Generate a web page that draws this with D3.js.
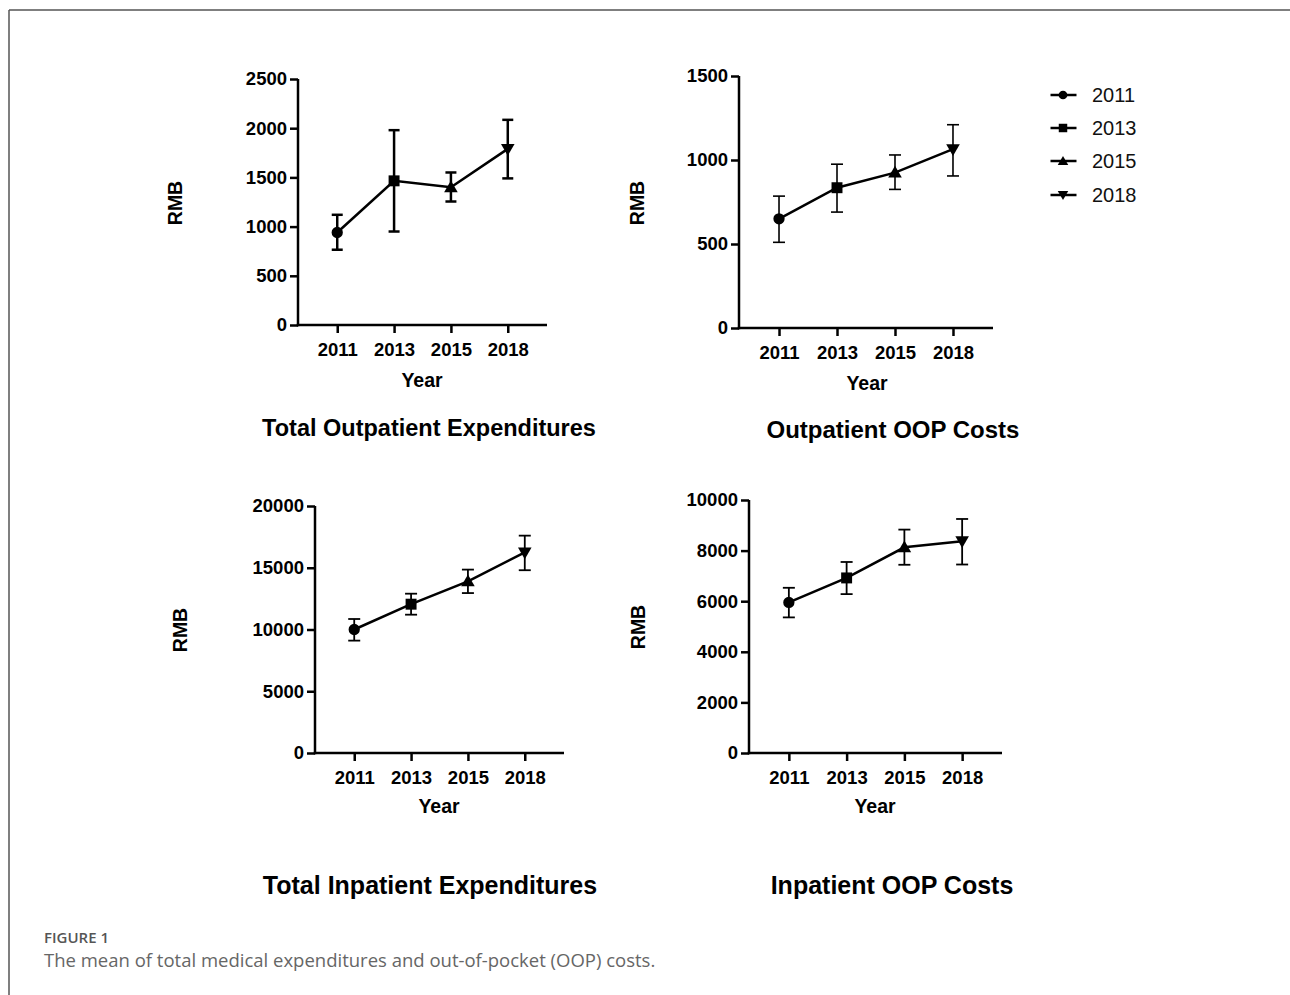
<!DOCTYPE html>
<html>
<head>
<meta charset="utf-8">
<script src="https://cdnjs.cloudflare.com/ajax/libs/d3/7.8.5/d3.min.js"></script>
<style>
  html, body { margin: 0; padding: 0; background: #fff; }
  svg { display: block; }
</style>
</head>
<body>
<svg id="chart" width="1290" height="995"></svg>
<script>
// ---------- data ----------
const years = ["2011", "2013", "2015", "2018"];

const outTotalMean = [940, 1465, 1400, 1790];
const outTotalLow  = [765, 950, 1255, 1490];
const outTotalHigh = [1120, 1980, 1550, 2085];

const outOopMean = [650, 835, 925, 1065];
const outOopLow  = [510, 690, 825, 905];
const outOopHigh = [785, 975, 1030, 1210];

const inTotalMean = [10000, 12050, 13900, 16250];
const inTotalLow  = [9100, 11200, 12950, 14800];
const inTotalHigh = [10850, 12900, 14850, 17600];

const inOopMean = [5950, 6920, 8130, 8370];
const inOopLow  = [5360, 6280, 7440, 7450];
const inOopHigh = [6530, 7550, 8830, 9250];

const outTotalTicks = [0, 500, 1000, 1500, 2000, 2500];
const outOopTicks   = [0, 500, 1000, 1500];
const inTotalTicks  = [0, 5000, 10000, 15000, 20000];
const inOopTicks    = [0, 2000, 4000, 6000, 8000, 10000];

const panelTitles = ["Total Outpatient Expenditures", "Outpatient OOP Costs",
                     "Total Inpatient Expenditures", "Inpatient OOP Costs"];
const yLabel = "RMB";
const xLabel = "Year";
const captionHead = "FIGURE 1";
const captionText = "The mean of total medical expenditures and out-of-pocket (OOP) costs.";

// ---------- layout ----------
const panels = [
  { mean: outTotalMean, low: outTotalLow, high: outTotalHigh, ticks: outTotalTicks, max: 2500,
    x0: 298, x1: 547, yTop: 79, yBot: 325, ebW: 2.5, cap: 11,
    rmb: [175, 203], yr: [422, 387], title: [429, 436], tSize: 23.5 },
  { mean: outOopMean, low: outOopLow, high: outOopHigh, ticks: outOopTicks, max: 1500,
    x0: 739, x1: 993, yTop: 76, yBot: 328, ebW: 1.6, cap: 12,
    rmb: [637, 203], yr: [867, 390], title: [893, 438], tSize: 24 },
  { mean: inTotalMean, low: inTotalLow, high: inTotalHigh, ticks: inTotalTicks, max: 20000,
    x0: 315, x1: 564, yTop: 506, yBot: 753, ebW: 1.8, cap: 12,
    rmb: [180, 630], yr: [439, 813], title: [430, 894], tSize: 25 },
  { mean: inOopMean, low: inOopLow, high: inOopHigh, ticks: inOopTicks, max: 10000,
    x0: 749, x1: 1002, yTop: 500, yBot: 753, ebW: 1.8, cap: 12,
    rmb: [638, 627], yr: [875, 813], title: [892, 894], tSize: 25 }
];

const FONT = "'Liberation Sans', Arial, Helvetica, sans-serif";
const svg = d3.select("#chart");

// frame
svg.append("line").attr("x1", 9).attr("y1", 10).attr("x2", 1290).attr("y2", 10)
  .attr("stroke", "#555").attr("stroke-width", 1.5);
svg.append("line").attr("x1", 9).attr("y1", 10).attr("x2", 9).attr("y2", 995)
  .attr("stroke", "#555").attr("stroke-width", 1.5);

const shapes = [
  d3.symbol().type(d3.symbolCircle),
  d3.symbol().type(d3.symbolSquare),
  d3.symbol().type(d3.symbolTriangle),
  d3.symbol().type(d3.symbolTriangle)
];
const rot = [0, 0, 0, 180];
const sizes = [100, 120, 80, 80];

panels.forEach((p, pi) => {
  const g = svg.append("g");
  const x = d3.scaleLinear().domain([-0.69, 3.69]).range([p.x0, p.x1]);
  const y = d3.scaleLinear().domain([0, p.max]).range([p.yBot, p.yTop]);

  // y axis
  const ya = g.append("g").attr("transform", `translate(${p.x0},0)`)
    .call(d3.axisLeft(y).tickValues(p.ticks).tickSize(8).tickSizeOuter(0).tickPadding(3)
      .tickFormat(d3.format("d")));
  // x axis
  const xa = g.append("g").attr("transform", `translate(0,${p.yBot})`)
    .call(d3.axisBottom(x).tickValues(d3.range(years.length)).tickSize(8).tickSizeOuter(0)
      .tickPadding(10).tickFormat(i => years[i]));
  [ya, xa].forEach(a => {
    a.select(".domain").attr("stroke", "#000").attr("stroke-width", 2.5);
    a.selectAll(".tick line").attr("stroke", "#000").attr("stroke-width", 2.5);
    a.selectAll(".tick text").attr("fill", "#000").style("font-family", FONT)
      .style("font-size", "18.5px").style("font-weight", "bold");
  });
  xa.select(".domain").attr("d", `M${p.x0 - 1.25},0H${p.x1}`);
  ya.select(".domain").attr("d", `M0,${p.yTop}V${p.yBot + 1.25}`);

  // line
  const idx = d3.range(years.length);
  g.append("path").datum(idx)
    .attr("fill", "none").attr("stroke", "#000").attr("stroke-width", 2.5)
    .attr("d", d3.line().x(i => x(i)).y(i => y(p.mean[i])));

  // error bars + markers
  idx.forEach(i => {
    const cx = x(i);
    g.append("line").attr("x1", cx).attr("x2", cx).attr("y1", y(p.low[i])).attr("y2", y(p.high[i]))
      .attr("stroke", "#000").attr("stroke-width", p.ebW);
    [p.low[i], p.high[i]].forEach(v => {
      g.append("line").attr("x1", cx - p.cap / 2).attr("x2", cx + p.cap / 2)
        .attr("y1", y(v)).attr("y2", y(v))
        .attr("stroke", "#000").attr("stroke-width", p.ebW);
    });
    g.append("path").attr("d", shapes[i].size(sizes[i])())
      .attr("transform", `translate(${cx},${y(p.mean[i]) + (i === 3 ? -1 : i === 2 ? 1 : 0)}) rotate(${rot[i]})`)
      .attr("fill", "#000");
  });

  // labels
  g.append("text").text(yLabel)
    .attr("transform", `translate(${p.rmb[0]},${p.rmb[1]}) rotate(-90)`)
    .attr("text-anchor", "middle").attr("dominant-baseline", "central")
    .style("font-family", FONT).style("font-size", "19.5px").style("font-weight", "bold");
  g.append("text").text(xLabel).attr("x", p.yr[0]).attr("y", p.yr[1])
    .attr("text-anchor", "middle")
    .style("font-family", FONT).style("font-size", "19.5px").style("font-weight", "bold");
  g.append("text").text(panelTitles[pi]).attr("x", p.title[0]).attr("y", p.title[1])
    .attr("text-anchor", "middle")
    .style("font-family", FONT).style("font-size", p.tSize + "px").style("font-weight", "bold");
});

// legend
const legY = [95, 128, 161, 195];
years.forEach((yr, i) => {
  const lg = svg.append("g").attr("transform", `translate(1063,${legY[i]})`);
  lg.append("line").attr("x1", -12.5).attr("x2", 13.5).attr("stroke", "#000").attr("stroke-width", 2.5);
  lg.append("path").attr("d", shapes[i].size(sizes[i] * 0.6)())
    .attr("transform", `translate(0,${i === 3 ? -1 : i === 2 ? 1 : 0}) rotate(${rot[i]})`).attr("fill", "#000");
  lg.append("text").text(yr).attr("x", 29).attr("y", 0).attr("dominant-baseline", "central")
    .style("font-family", FONT).style("font-size", "20px").attr("fill", "#111");
});

// caption
svg.append("text").text(captionHead).attr("x", 44).attr("y", 943)
  .style("font-family", "'Open Sans', sans-serif").style("font-size", "15px")
  .style("font-weight", "600").attr("fill", "#555");
svg.append("text").text(captionText).attr("x", 44).attr("y", 967)
  .style("font-family", "'Open Sans', sans-serif").style("font-size", "18.5px")
  .attr("fill", "#666");
</script>
</body>
</html>
